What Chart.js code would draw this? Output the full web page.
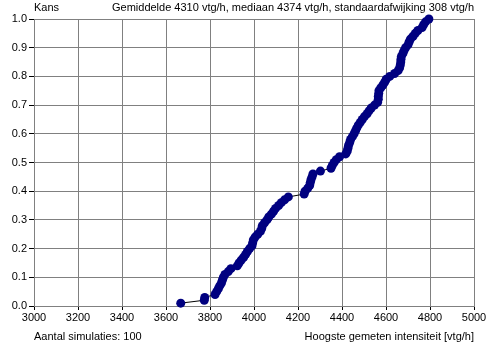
<!DOCTYPE html>
<html>
<head>
<meta charset="utf-8">
<script src="https://cdn.jsdelivr.net/npm/chart.js@4/dist/chart.umd.min.js"></script>
<style>
html,body{margin:0;padding:0;background:#fff;}
#wrap{width:490px;height:346px;position:relative;}
</style>
</head>
<body>
<div id="wrap"><canvas id="c" width="490" height="346"></canvas></div>
<script>
const yLabelTitle = "Kans";
const chartTitle = "Gemiddelde 4310 vtg/h, mediaan 4374 vtg/h, standaardafwijking 308 vtg/h";
const xAxisTitle = "Hoogste gemeten intensiteit [vtg/h]";
const countLabel = "Aantal simulaties: 100";

const intensities = [
 3667,3774,3776,3823,3830,3838,3844,3852,3856,3861,
 3868,3883,3895,3924,3932,3942,3953,3962,3970,3980,
 3991,3994,3997,4005,4017,4029,4035,4038,4048,4059,
 4067,4079,4089,4098,4112,4124,4139,4156,4228,4232,
 4244,4253,4256,4259,4264,4268,4302,4350,4356,4364,
 4374,4389,4417,4424,4427,4430,4435,4439,4447,4455,
 4461,4467,4474,4483,4492,4502,4514,4523,4533,4548,
 4562,4565,4565,4567,4568,4576,4586,4594,4601,4617,
 4639,4655,4662,4665,4667,4668,4670,4677,4682,4689,
 4700,4705,4711,4723,4733,4745,4764,4771,4780,4795
];
const probabilities = [
 0.01,0.02,0.03,0.04,0.05,0.06,0.07,0.08,0.09,0.10,
 0.11,0.12,0.13,0.14,0.15,0.16,0.17,0.18,0.19,0.20,
 0.21,0.22,0.23,0.24,0.25,0.26,0.27,0.28,0.29,0.30,
 0.31,0.32,0.33,0.34,0.35,0.36,0.37,0.38,0.39,0.40,
 0.41,0.42,0.43,0.44,0.45,0.46,0.47,0.48,0.49,0.50,
 0.51,0.52,0.53,0.54,0.55,0.56,0.57,0.58,0.59,0.60,
 0.61,0.62,0.63,0.64,0.65,0.66,0.67,0.68,0.69,0.70,
 0.71,0.72,0.73,0.74,0.75,0.76,0.77,0.78,0.79,0.80,
 0.81,0.82,0.83,0.84,0.85,0.86,0.87,0.88,0.89,0.90,
 0.91,0.92,0.93,0.94,0.95,0.96,0.97,0.98,0.99,1.00
];
const xMin = 3000, xMax = 5000, xStep = 200;
const yMin = 0, yMax = 1, yStep = 0.1;

const points = intensities.map((x, i) => ({x: x, y: probabilities[i]}));
const FONT = "'Liberation Sans', Arial, sans-serif";

const textPlugin = {
  id: 'texts',
  afterDraw(chart) {
    const ctx = chart.ctx, a = chart.chartArea;
    ctx.save();
    ctx.fillStyle = '#000';
    ctx.font = '11px ' + FONT;
    ctx.textBaseline = 'middle';
    ctx.textAlign = 'left';
    ctx.fillText(yLabelTitle, a.left, 8);
    ctx.textAlign = 'right';
    ctx.fillText(chartTitle, a.right, 8);
    ctx.textAlign = 'left';
    ctx.fillText(countLabel, a.left, 337);
    ctx.textAlign = 'right';
    ctx.fillText(xAxisTitle, a.right, 337);
    ctx.restore();
  }
};

new Chart(document.getElementById('c'), {
  type: 'scatter',
  data: {
    datasets: [{
      data: points,
      showLine: true,
      clip: false,
      borderColor: '#000000',
      borderWidth: 1,
      pointBackgroundColor: '#000080',
      pointBorderColor: '#000080',
      pointRadius: 4.5,
      pointBorderWidth: 0,
      tension: 0
    }]
  },
  options: {
    responsive: false,
    animation: false,
    devicePixelRatio: 1,
    layout: {padding: {left: 0, right: 16, top: 19, bottom: 0}},
    plugins: {legend: {display: false}, tooltip: {enabled: false}},
    scales: {
      x: {
        type: 'linear', min: xMin, max: xMax,
        afterFit(s) { s.height = 40; },
        ticks: {stepSize: xStep, color: '#000', font: {family: FONT, size: 11}, padding: 1, maxRotation: 0, autoSkip: false,
          callback: v => String(v)},
        grid: {color: '#808080', tickColor: '#000', tickLength: 4, lineWidth: 1},
        border: {color: '#808080'}
      },
      y: {
        type: 'linear', min: yMin, max: yMax,
        afterFit(s) { s.width = 34; },
        ticks: {stepSize: yStep, color: '#000', font: {family: FONT, size: 11}, padding: 2,
          callback: v => Number(v).toFixed(1)},
        grid: {color: '#808080', tickColor: '#000', tickLength: 5, lineWidth: 1},
        border: {color: '#808080'}
      }
    }
  },
  plugins: [textPlugin]
});
</script>
</body>
</html>
